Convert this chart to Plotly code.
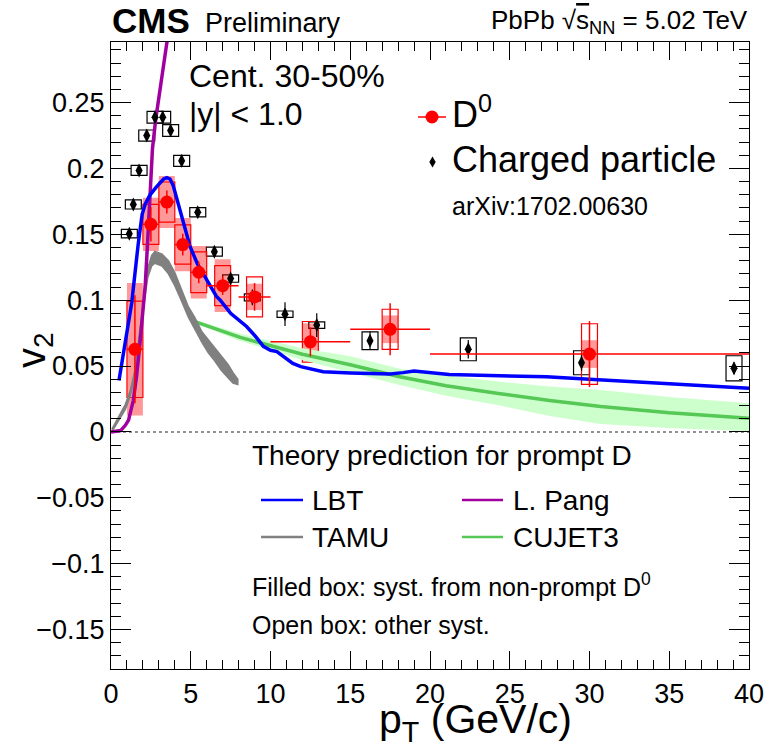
import plotly.graph_objects as go

FONT = "Liberation Sans, Arial, Helvetica, sans-serif"

# ---------------- data ----------------
# D0 v2 (prompt D0)
d0_pt = [1.5, 2.5, 3.5, 4.5, 5.5, 7.0, 9.0, 12.5, 17.5, 30.0]
d0_bin_lo = [1, 2, 3, 4, 5, 6, 8, 10, 15, 20]
d0_bin_hi = [2, 3, 4, 5, 6, 8, 10, 15, 20, 40]
d0_v2 = [0.0627, 0.1576, 0.1745, 0.1422, 0.1212, 0.1110, 0.1025, 0.0684, 0.0779, 0.0591]
d0_stat = [0.041, 0.013, 0.0087, 0.0083, 0.0083, 0.007, 0.0105, 0.011, 0.0198, 0.025]
d0_syst_other = [0.0366, 0.0152, 0.0152, 0.0149, 0.0154, 0.0152, 0.0152, 0.0154, 0.0152, 0.023]
d0_syst_nonprompt = [0.0503, 0.0202, 0.0198, 0.0202, 0.0200, 0.0200, 0.0100, 0.0140, 0.0105, 0.0105]

# Charged particle v2
ch_pt = [1.15, 1.40, 1.76, 2.24, 2.76, 3.24, 3.74, 4.43, 5.44, 6.48, 7.50, 8.86, 10.91, 12.9, 16.24, 22.4, 29.5, 39.06]
ch_v2 = [0.1505, 0.1727, 0.1985, 0.2250, 0.2389, 0.2389, 0.2288, 0.2058, 0.1667, 0.1368, 0.1164, 0.1021,
         0.0894, 0.0811, 0.0692, 0.0627, 0.0525, 0.0483]
ch_stat = [0.002, 0.002, 0.002, 0.002, 0.002, 0.002, 0.002, 0.002, 0.002, 0.003, 0.003, 0.006,
           0.009, 0.009, 0.007, 0.007, 0.006, 0.0045]
ch_syst = [0.0032, 0.0035, 0.0038, 0.0042, 0.0045, 0.0045, 0.0045, 0.0042, 0.0035, 0.0034, 0.0028, 0.0027,
           0.0024, 0.0025, 0.0068, 0.0087, 0.0091, 0.0095]

# LBT
lbt_pt = [0.5, 0.9, 1.3, 1.7, 1.95, 2.15, 2.45, 2.85, 3.3, 3.5, 3.7, 3.9, 4.1, 4.35, 4.95, 5.4, 5.8, 6.1,
          6.6, 6.85, 7.5, 8.5, 9.1, 9.55, 10.0, 10.4, 11.0, 11.4, 11.9, 13.3, 15.0, 16.5, 17.5, 18.3, 19.0,
          21.2, 24.4, 27.3, 30.0, 32.7, 36.0, 40.0]
lbt_v2 = [0.039, 0.068, 0.098, 0.142, 0.165, 0.173, 0.180, 0.186, 0.192, 0.193, 0.192, 0.187, 0.178, 0.166,
          0.141, 0.128, 0.120, 0.113, 0.103, 0.100, 0.090, 0.080, 0.072, 0.065, 0.062, 0.061, 0.056, 0.052,
          0.0495, 0.0457, 0.0448, 0.0444, 0.0440, 0.0450, 0.0463, 0.0435, 0.0424, 0.0419, 0.0400, 0.0381,
          0.0357, 0.0331]

# L. Pang
pang_pt = [0.0, 0.6, 0.9, 1.1, 1.4, 1.6, 1.8, 2.0, 2.15, 2.3, 2.45, 2.6, 2.8, 3.1, 3.5, 3.7]
pang_v2 = [0.0, 0.001, 0.005, 0.009, 0.024, 0.042, 0.065, 0.090, 0.112, 0.145, 0.185, 0.215, 0.237, 0.262,
           0.296, 0.312]

# TAMU band
tamu_pt = [0.05, 0.45, 0.9, 1.2, 1.5, 1.7, 1.9, 2.1, 2.3, 2.55, 2.75, 3.2, 3.6, 4.0, 4.4, 4.85, 5.25, 5.7,
           6.1, 6.5, 6.9, 7.35, 7.65, 7.95]
tamu_hi = [0.002, 0.011, 0.021, 0.031, 0.047, 0.067, 0.087, 0.107, 0.124, 0.134, 0.137, 0.135, 0.130, 0.121,
           0.109, 0.095, 0.087, 0.076, 0.070, 0.064, 0.058, 0.051, 0.045, 0.040]
tamu_lo = [0.0, 0.008, 0.017, 0.027, 0.042, 0.062, 0.082, 0.101, 0.117, 0.126, 0.128, 0.126, 0.120, 0.111,
           0.100, 0.087, 0.078, 0.068, 0.060, 0.054, 0.047, 0.041, 0.037, 0.036]

# CUJET3
cujet_pt = [5.3, 8.1, 12.0, 15.0, 18.1, 21.0, 24.4, 27.5, 30.7, 35.0, 40.0]
cujet_v2 = [0.0836, 0.0717, 0.0590, 0.0510, 0.0419, 0.0350, 0.0290, 0.0238, 0.0192, 0.0145, 0.0104]
cujet_hi = [0.0850, 0.0745, 0.0635, 0.0575, 0.0480, 0.0430, 0.0380, 0.0345, 0.0318, 0.0265, 0.0217]
cujet_lo = [0.0822, 0.0690, 0.0545, 0.0450, 0.0356, 0.0275, 0.0200, 0.0120, 0.0060, 0.0030, 0.0005]

x_ticks = [0, 5, 10, 15, 20, 25, 30, 35, 40]
y_ticks = [-0.15, -0.1, -0.05, 0, 0.05, 0.1, 0.15, 0.2, 0.25]

# ---------------- figure ----------------
W, H = 769, 753
L, R, T, B = 111, 20, 42, 84
PW, PH = W - L - R, H - T - B


def px(x):
    return (x - L) / PW


def py(y):
    return (H - B - y) / PH


fig = go.Figure()

# Charged particle open boxes
fig.add_trace(go.Bar(
    x=ch_pt, y=[2 * s for s in ch_syst], base=[v - s for v, s in zip(ch_v2, ch_syst)], width=1.0,
    marker=dict(color="rgba(0,0,0,0)", line=dict(color="black", width=1.2)), showlegend=False,
    hoverinfo="skip"))
# D0 filled boxes (non-prompt)
fig.add_trace(go.Bar(
    x=d0_pt, y=[2 * s for s in d0_syst_nonprompt], base=[v - s for v, s in zip(d0_v2, d0_syst_nonprompt)],
    width=1.0, marker=dict(color="rgba(255,0,0,0.4)", line=dict(width=0)), showlegend=False,
    hoverinfo="skip"))
# D0 open boxes (other syst)
fig.add_trace(go.Bar(
    x=d0_pt, y=[2 * s for s in d0_syst_other], base=[v - s for v, s in zip(d0_v2, d0_syst_other)],
    width=1.0, marker=dict(color="rgba(0,0,0,0)", line=dict(color="red", width=1.2)), showlegend=False,
    hoverinfo="skip"))

# CUJET3 band + line
fig.add_trace(go.Scatter(x=cujet_pt + cujet_pt[::-1], y=cujet_hi + cujet_lo[::-1], fill="toself",
                         fillcolor="rgb(204,255,204)", line=dict(width=0), mode="lines", showlegend=False,
                         hoverinfo="skip"))
fig.add_trace(go.Scatter(x=cujet_pt, y=cujet_v2, mode="lines", line=dict(color="rgb(85,200,85)", width=3.5),
                         showlegend=False))
# TAMU band
fig.add_trace(go.Scatter(x=tamu_pt + tamu_pt[::-1], y=tamu_hi + tamu_lo[::-1], fill="toself",
                         fillcolor="rgb(128,128,128)", line=dict(color="rgb(128,128,128)", width=1.5),
                         mode="lines", showlegend=False, hoverinfo="skip"))
# L. Pang
fig.add_trace(go.Scatter(x=pang_pt, y=pang_v2, mode="lines", line=dict(color="rgb(160,0,160)", width=3.5),
                         showlegend=False))
# LBT
fig.add_trace(go.Scatter(x=lbt_pt, y=lbt_v2, mode="lines", line=dict(color="rgb(0,0,255)", width=3.5),
                         showlegend=False))

# Charged particle points
fig.add_trace(go.Scatter(
    x=ch_pt, y=ch_v2, mode="markers",
    marker=dict(symbol="diamond-tall", size=10, color="black"),
    error_y=dict(type="data", array=ch_stat, color="black", thickness=1.2, width=0),
    showlegend=False))
# D0 points
fig.add_trace(go.Scatter(
    x=d0_pt, y=d0_v2, mode="markers",
    marker=dict(symbol="circle", size=13, color="red"),
    error_x=dict(type="data", symmetric=False,
                 array=[h - p for h, p in zip(d0_bin_hi, d0_pt)],
                 arrayminus=[p - l for l, p in zip(d0_bin_lo, d0_pt)],
                 color="red", thickness=1.5, width=0),
    error_y=dict(type="data", array=d0_stat, color="red", thickness=1.5, width=0),
    showlegend=False))

shapes = []
# dotted zero line
shapes.append(dict(type="line", xref="paper", yref="y", x0=0, x1=1, y0=0, y1=0,
                   line=dict(color="rgb(110,110,110)", width=1.5, dash="dot"), layer="below"))


def seg(x0, x1, y, color, width=2.5):
    shapes.append(dict(type="line", xref="paper", yref="paper", x0=px(x0), x1=px(x1), y0=py(y), y1=py(y),
                       line=dict(color=color, width=width)))


# D0 legend key
seg(418, 446, 117, "red", 1.5)
r = 6.5
shapes.append(dict(type="circle", xref="paper", yref="paper", x0=px(432 - r), x1=px(432 + r),
                   y0=py(117 + r), y1=py(117 - r), fillcolor="red", line=dict(color="red", width=0)))
# Charged legend key (diamond)
cx, cy = 432.5, 162
shapes.append(dict(type="path", xref="paper", yref="paper",
                   path=f"M {px(cx)} {py(cy-5.5)} L {px(cx+3.2)} {py(cy)} L {px(cx)} {py(cy+5.5)} L {px(cx-3.2)} {py(cy)} Z",
                   fillcolor="black", line=dict(color="black", width=0)))
# theory legend keys
seg(261, 303, 500, "rgb(0,0,255)")
seg(462, 503, 500, "rgb(160,0,160)")
seg(261, 303, 537, "rgb(128,128,128)")
seg(462, 503, 537, "rgb(85,200,85)")

annotations = []


def ann(text, x, y, size, xanchor="left", yanchor="middle", angle=0):
    annotations.append(dict(text=text, x=px(x), y=py(y), xref="paper", yref="paper", showarrow=False,
                            xanchor=xanchor, yanchor=yanchor, textangle=angle,
                            font=dict(size=size, family=FONT, color="black")))


ann("<b>CMS</b>", 110, 21, 35)
ann("Preliminary", 203, 23, 27)
ann("PbPb √<span style='text-decoration:overline'>s</span><sub>NN</sub> = 5.02 TeV", 750, 22, 26,
    xanchor="right")
ann("Cent. 30-50%", 187, 76, 32)
ann("|y| < 1.0", 187, 114, 32)
ann("D<sup>0</sup>", 450, 112, 36)
ann("Charged particle", 450, 159, 36)
ann("arXiv:1702.00630", 450, 206, 25)
ann("Theory prediction for prompt D", 250, 455, 28)
ann("LBT", 310, 500, 28)
ann("L. Pang", 511, 500, 28)
ann("TAMU", 310, 537, 28)
ann("CUJET3", 511, 537, 28)
ann("Filled box: syst. from non-prompt D<sup>0</sup>", 250, 585, 25)
ann("Open box: other syst.", 250, 625, 25)
ann("p<sub>T</sub> (GeV/c)", 475, 722, 41, xanchor="center")
ann("v<sub>2</sub>", 34, 350, 40, xanchor="center", angle=-90)

axis_common = dict(showline=True, linecolor="black", linewidth=1.2, mirror="ticks", ticks="inside",
                   tickcolor="black", tickwidth=1.2, showgrid=False, zeroline=False, automargin=False,
                   tickfont=dict(size=27, family=FONT, color="black"))

fig.update_layout(
    width=W, height=H, margin=dict(l=L, r=R, t=T, b=B, autoexpand=False),
    paper_bgcolor="white", plot_bgcolor="white",
    barmode="overlay", showlegend=False,
    font=dict(family=FONT, color="black"),
    xaxis=dict(range=[0, 40], tickvals=x_ticks, ticktext=[str(v) for v in x_ticks], ticklen=18,
               minor=dict(dtick=1, tick0=0, ticklen=9, ticks="inside", tickcolor="black", tickwidth=1.2),
               **axis_common),
    yaxis=dict(range=[-0.18, 0.296], tickvals=y_ticks,
               ticktext=[("\u2212" + f"{abs(v):g}") if v < 0 else f"{v:g}" for v in y_ticks], ticklen=20,
               minor=dict(dtick=0.01, tick0=0, ticklen=10, ticks="inside", tickcolor="black", tickwidth=1.2),
               **axis_common),
    shapes=shapes, annotations=annotations,
)

fig.write_html("out.html", config={"displayModeBar": False},
               post_script="document.body.style.margin='0';document.body.style.padding='0';")
